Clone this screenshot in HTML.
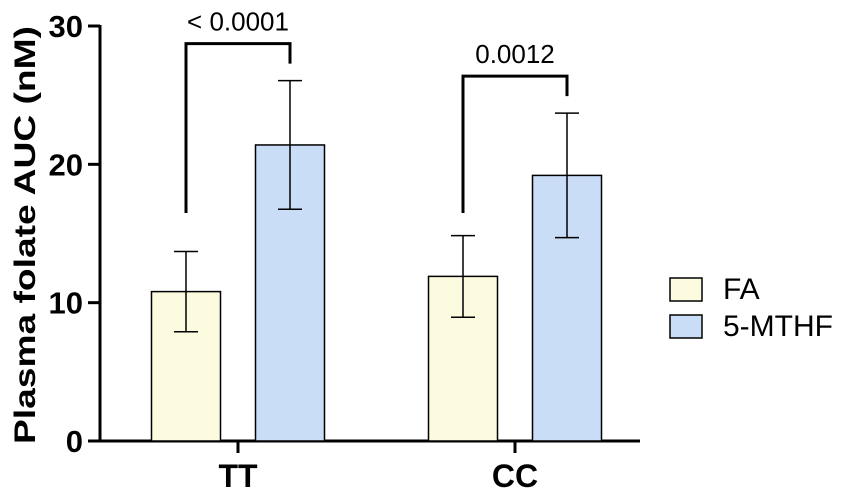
<!DOCTYPE html>
<html><head><meta charset="utf-8"><style>
body{margin:0;background:#fff;width:850px;height:498px;overflow:hidden}
svg text{font-family:"Liberation Sans",Arial,sans-serif}
</style></head><body>
<svg id="chart" width="850" height="498" xmlns="http://www.w3.org/2000/svg"></svg>
<script>
const categories = ["TT", "CC"];
const seriesNames = ["FA", "5-MTHF"];
const faMeans = [10.8, 11.9];
const faSD = [2.9, 2.95];
const mthfMeans = [21.4, 19.2];
const mthfSD = [4.65, 4.5];
const pValues = ["< 0.0001", "0.0012"];
const yTicks = [0, 10, 20, 30];

const NS = "http://www.w3.org/2000/svg";
const svg = document.getElementById("chart");
const y0 = 441, yTop = 26, yMax = 30;
const y = v => y0 - (y0 - yTop) * v / yMax;
const groupX = [238, 515];
const barW = 69, offset = 52;
const colors = ["#fdfbdf", "#c9ddf6"];
function el(tag, attrs, parent){ const e=document.createElementNS(NS,tag); for(const k in attrs) e.setAttribute(k,attrs[k]); (parent||svg).appendChild(e); return e; }

const yAxis = el("line",{x1:100,y1:y0+1,x2:100,y2:yTop-1,stroke:"#000","stroke-width":3});


const xAxis = el("line",{x1:99,y1:y0,x2:640,y2:y0,stroke:"#000","stroke-width":3});


yTicks.forEach(t=>{
  const tk = el("line",{x1:88,y1:y(t),x2:100,y2:y(t),stroke:"#000","stroke-width":3});
  
  
  const lb = el("text",{x:83,y:y(t)+11,"text-anchor":"end","font-size":31,"font-weight":"bold"});
  lb.textContent = t;
  
  
});
const yt = el("text",{x:0,y:0,transform:"translate(35,235) rotate(-90)","text-anchor":"middle","font-size":30,"font-weight":"bold",textLength:418,lengthAdjust:"spacingAndGlyphs"});
yt.textContent = "Plasma folate AUC (nM)";



categories.forEach((c,i)=>{
  const gx = groupX[i];
  const tk = el("line",{x1:gx,y1:y0,x2:gx,y2:y0+12,stroke:"#000","stroke-width":3});
  
  
  const lb = el("text",{x:gx,y:487,"text-anchor":"middle","font-size":32,"font-weight":"bold"});
  lb.textContent = c;
  
  
  [[faMeans,faSD],[mthfMeans,mthfSD]].forEach((s,j)=>{
    const cx = gx + (j===0?-offset:offset);
    const m = s[0][i], sd = s[1][i];
    const r = el("rect",{x:cx-barW/2,y:y(m),width:barW,height:y0-y(m),fill:colors[j],stroke:"#000","stroke-width":1.5});
    
    
    const eb = el("path",{d:`M${cx} ${y(m+sd)}V${y(m-sd)}M${cx-12} ${y(m+sd)}H${cx+12}M${cx-12} ${y(m-sd)}H${cx+12}`,stroke:"#000","stroke-width":1.5,fill:"none"});
    
    
  });
  const x1 = gx-offset, x2 = gx+offset;
  const top = y(mthfMeans[i]+mthfSD[i])-37;
  const br = el("path",{d:`M${x1} 213V${top}H${x2}V${top+20}`,stroke:"#000","stroke-width":3,fill:"none"});
  
  
  const pv = el("text",{x:gx,y:top-13,"text-anchor":"middle","font-size":26});
  pv.textContent = pValues[i];
  
  
});

seriesNames.forEach((n,j)=>{
  const ly = 278 + j*37;
  const bx = el("rect",{x:670,y:ly,width:32,height:23,fill:colors[j],stroke:"#000","stroke-width":1.5});
  
  
  const t = el("text",{x:723,y:ly+21,"font-size":30});
  t.textContent = n;
  
  
});
</script>
</body></html>
